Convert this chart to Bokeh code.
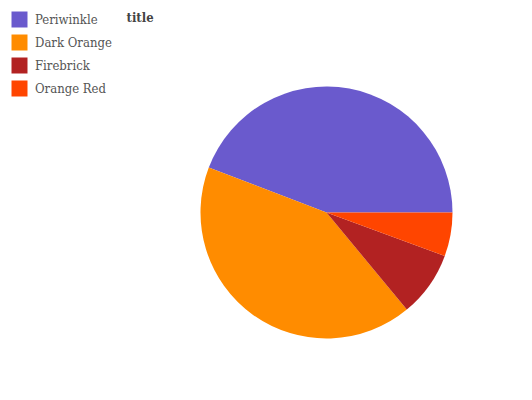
from bokeh.plotting import figure
from bokeh.models import ColumnDataSource, Legend, LegendItem, Label
from bokeh.transform import cumsum
from bokeh.embed import file_html
from bokeh.resources import INLINE
import math

categories = ["Periwinkle", "Dark Orange", "Firebrick", "Orange Red"]
values = [44.2, 41.8, 8.4, 5.6]
colors = ["#6A5ACD", "#FF8C00", "#B22222", "#FF4500"]

FONT = "'DejaVu Serif Condensed', 'DejaVu Serif', serif"

total = sum(values)
angles = [v / total * 2 * math.pi for v in values]
source = ColumnDataSource(dict(cat=categories, value=values, angle=angles, color=colors))

W, H = 532, 400
p = figure(width=W, height=H, x_range=(0, W), y_range=(0, H),
           x_axis_type=None, y_axis_type=None, toolbar_location=None,
           output_backend="svg", min_border=0)
p.outline_line_color = None
p.grid.visible = False
p.background_fill_color = "white"

p.wedge(x=326, y=188, radius=126,
        start_angle=cumsum("angle", include_zero=True), end_angle=cumsum("angle"),
        line_color=None, fill_color="color", source=source)

nan = float("nan")
items = []
for c, col in zip(categories, colors):
    rr = p.rect(x=[nan], y=[nan], width=[1], height=[1], fill_color=col, line_color=None)
    items.append(LegendItem(label=c, renderers=[rr]))

legend = Legend(items=items, location="top_left", orientation="vertical",
                glyph_width=20, glyph_height=20, label_height=20, spacing=3,
                label_standoff=6, padding=0, margin=9,
                border_line_color=None, background_fill_alpha=0,
                label_text_font=FONT, label_text_font_size="13px",
                label_text_color="#555555")
p.add_layout(legend, "center")

title = Label(x=126, y=H - 17, x_units="screen", y_units="screen", text="title",
              text_font=FONT, text_font_size="13px", text_font_style="bold",
              text_color="#444444", text_baseline="middle")
p.add_layout(title)

open("out.html", "w").write(file_html(p, INLINE))
